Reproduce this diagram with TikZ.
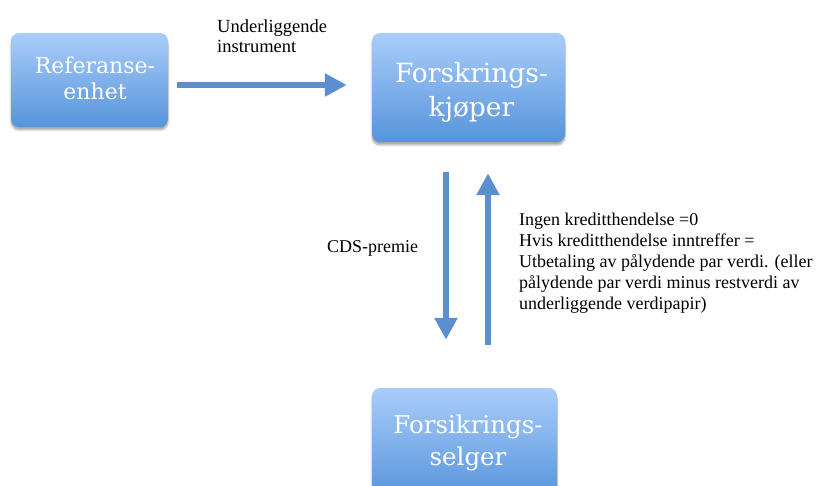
\documentclass[tikz,border=0pt]{standalone}
\usepackage{fontspec}
\newfontfamily\tnr{Liberation Serif}
\newfontfamily\boxfont{DejaVu Serif}
\usetikzlibrary{arrows.meta,shadows.blur}
\definecolor{boxtop}{RGB}{170,205,250}
\definecolor{boxbot}{RGB}{86,148,219}
\definecolor{flowblue}{RGB}{92,143,208}
\tikzset{
  entity/.style={rounded corners=8pt, top color=boxtop, bottom color=boxbot, draw=none,
    blur shadow={shadow xshift=0pt, shadow yshift=-3pt, shadow opacity=35, shadow blur steps=8}},
  boxtext/.style={text=white, align=center, inner sep=0pt},
  flow/.style={draw=flowblue, line width=6pt, -{Triangle[width=22pt,length=22pt]}},
  small/.style={inner sep=0pt, align=left, font=\tnr\fontsize{18}{21.2}\selectfont}
}
\begin{document}
\begin{tikzpicture}[x=1pt,y=-1pt]
\useasboundingbox (0,0) rectangle (822,486);
\clip (0,0) rectangle (822,486);
\node[entity, minimum width=157pt, minimum height=94pt] (ref) at (89.5,80) {};
\node[entity, minimum width=193pt, minimum height=109pt] (buyer) at (468.5,87.5) {};
\node[entity, minimum width=185pt, minimum height=110pt] (seller) at (464.5,443) {};
\node[boxtext, font=\boxfont\fontsize{22}{26}\selectfont] (reftext) at (95,78.5) {Referanse-\\enhet};
\node[boxtext, font=\boxfont\fontsize{26.5}{34}\selectfont] (buyertext) at (471.5,92) {Forskrings-\\kjøper};
\node[boxtext, font=\boxfont\fontsize{24.5}{32}\selectfont] (sellertext) at (468,443) {Forsikrings-\\selger};
\draw[flow] ([shift={(9,5)}]ref.east) -- ([shift={(-25,-2.5)}]buyer.west);
\draw[flow] ([shift={(-22.5,30)}]buyer.south) -- ([shift={(-18.5,-48)}]seller.north);
\draw[flow] ([shift={(23.5,-43)}]seller.north) -- ([shift={(19.5,31)}]buyer.south);
\node[small, anchor=base west, font=\tnr\fontsize{18.5}{20}\selectfont] (under) at (217,53) {Underliggende\\instrument};
\node[small, anchor=base west] (cds) at (327,253) {CDS-premie};
\node[small, anchor=base west] (payout) at (519,309.8) {Ingen kreditthendelse =0\\Hvis kreditthendelse inntreffer =\\Utbetaling av pålydende par verdi. (eller\\pålydende par verdi minus restverdi av\\underliggende verdipapir)};
\end{tikzpicture}
\end{document}
